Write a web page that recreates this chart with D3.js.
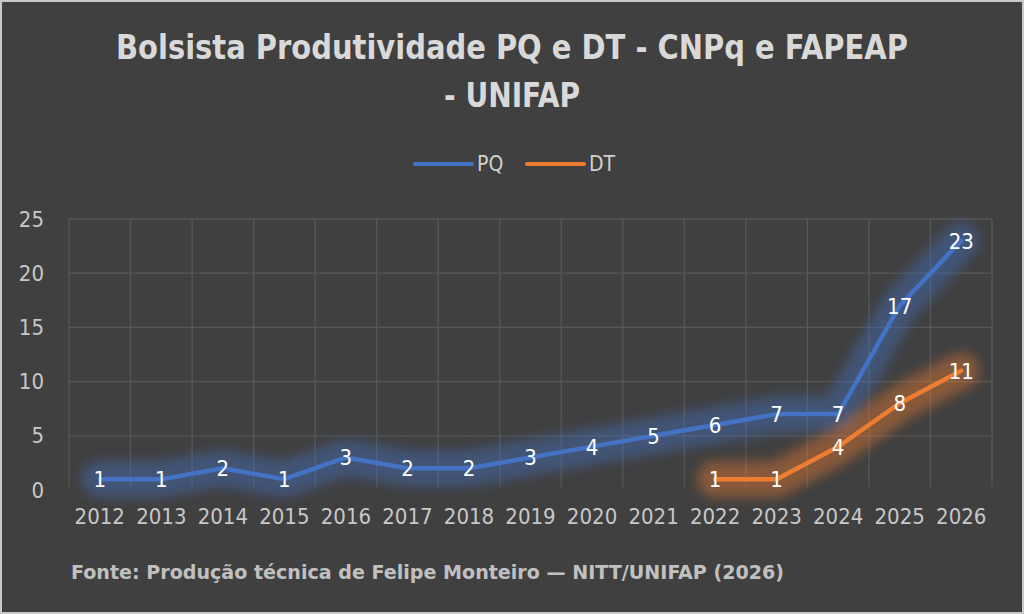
<!DOCTYPE html>
<html><head><meta charset="utf-8">
<script src="https://cdn.jsdelivr.net/npm/d3@7"></script>
<style>html,body{margin:0;padding:0;background:#404040;}svg{display:block;}</style>
</head><body>
<svg id="c" width="1024" height="614"></svg>
<script>
const years = ["2012","2013","2014","2015","2016","2017","2018","2019","2020","2021","2022","2023","2024","2025","2026"];
const pqValues = [1,1,2,1,3,2,2,3,4,5,6,7,7,17,23];
const dtYears = ["2022","2023","2024","2025","2026"];
const dtValues = [1,1,4,8,11];
const yTicks = [0,5,10,15,20,25];
const seriesNames = ["PQ","DT"];
const seriesColors = ["#4472C4","#ED7D31"];
const titleLines = ["Bolsista Produtividade PQ e DT - CNPq e FAPEAP","- UNIFAP"];
const sourceText = "Fonte: Produção técnica de Felipe Monteiro — NITT/UNIFAP (2026)";

const FONT = "'Liberation Sans Narrow','DejaVu Sans Condensed','Open Sans',sans-serif";
const svg = d3.select("#c");
const W = 1024, H = 614;
svg.append("rect").attr("x",1).attr("y",1).attr("width",W-2).attr("height",H-2)
  .attr("fill","#404040").attr("stroke","#c8c8c8").attr("stroke-width",2);

const defs = svg.append("defs");
const glow = defs.append("filter").attr("id","glow").attr("filterUnits","userSpaceOnUse")
  .attr("x",0).attr("y",0).attr("width",W).attr("height",H);
glow.append("feGaussianBlur").attr("stdDeviation",6);

const pLeft = 69, pRight = 992, pTop = 219, pBottom = 490;
const x = d3.scaleBand().domain(years).range([pLeft,pRight]);
const y = d3.scaleLinear().domain([0,25]).range([pBottom,pTop]);
const cx = d => x(d) + x.bandwidth()/2;

function fitText(sel, w){
  const n = sel.node();
  const len = n.getComputedTextLength();
  if (len>0) sel.attr("textLength", w).attr("lengthAdjust","spacingAndGlyphs");
}

// Title
const t1 = svg.append("text").attr("x",512).attr("y",59).attr("text-anchor","middle")
  .attr("font-family",FONT).attr("font-weight","bold").attr("font-size",34).attr("fill","#d9d9d9").text(titleLines[0]);
fitText(t1, 792);
const t2 = svg.append("text").attr("x",512).attr("y",107).attr("text-anchor","middle")
  .attr("font-family",FONT).attr("font-weight","bold").attr("font-size",34).attr("fill","#d9d9d9").text(titleLines[1]);
fitText(t2, 136);

// Legend
const legX = [415, 527];
seriesNames.forEach((s,i)=>{
  svg.append("line").attr("x1",legX[i]).attr("x2",legX[i]+57).attr("y1",164).attr("y2",164)
    .attr("stroke",seriesColors[i]).attr("stroke-width",4).attr("stroke-linecap","round");
  svg.append("text").attr("x",legX[i]+62).attr("y",171).attr("font-family",FONT)
    .attr("font-size",21).attr("fill","#d0d0d0").text(s);
});

// Grid
const g = svg.append("g");
g.selectAll(".hg").data(yTicks.filter(v=>v>0)).enter().append("line")
  .attr("x1",pLeft).attr("x2",pRight).attr("y1",d=>y(d)).attr("y2",d=>y(d))
  .attr("stroke","#575757").attr("stroke-width",1.3);
const vBounds = years.map(d=>x(d)).concat([pRight]);
g.selectAll(".vg").data(vBounds).enter().append("line")
  .attr("x1",d=>d).attr("x2",d=>d).attr("y1",pTop).attr("y2",pBottom-3)
  .attr("stroke","#575757").attr("stroke-width",1.3);

// Y axis labels
const yAxis = d3.axisLeft(y).tickValues(yTicks).tickSize(0).tickPadding(0);
const ya = svg.append("g").attr("transform",`translate(44,0)`).call(yAxis);
ya.select(".domain").remove();
ya.selectAll("text").attr("font-family",FONT).attr("font-size",22).attr("fill","#c8c8c8");

// X axis labels
const xAxis = d3.axisBottom(x).tickSize(0).tickPadding(0);
const xa = svg.append("g").attr("transform",`translate(0,508)`).call(xAxis);
xa.select(".domain").remove();
xa.selectAll("text").attr("font-family",FONT).attr("font-size",22).attr("fill","#c8c8c8");

// Lines
const pq = years.map((d,i)=>({x:d,v:pqValues[i]}));
const dt = dtYears.map((d,i)=>({x:d,v:dtValues[i]}));
const line = d3.line().x(d=>cx(d.x)).y(d=>y(d.v));
[pq,dt].forEach((data,i)=>{
  const gg = svg.append("g").attr("filter","url(#glow)").attr("opacity",0.42);
  gg.append("path").datum(data).attr("d",line).attr("fill","none")
    .attr("stroke",seriesColors[i]).attr("stroke-width",36)
    .attr("stroke-linejoin","round").attr("stroke-linecap","round");
});
[pq,dt].forEach((data,i)=>{
  svg.append("path").datum(data).attr("d",line).attr("fill","none")
    .attr("stroke",seriesColors[i]).attr("stroke-width",4.5)
    .attr("stroke-linejoin","round").attr("stroke-linecap","round");
});
// Data labels
[pq,dt].forEach((data)=>{
  svg.append("g").selectAll("text").data(data).enter().append("text")
    .attr("x",d=>cx(d.x)).attr("y",d=>y(d.v)+8).attr("text-anchor","middle")
    .attr("font-family",FONT).attr("font-size",22).attr("fill","#ffffff").text(d=>d.v);
});

// Source
const src = svg.append("text").attr("x",71).attr("y",579).attr("font-family",FONT)
  .attr("font-weight","bold").attr("font-size",20).attr("fill","#c0c0c0").text(sourceText);
fitText(src, 713);
</script>
</body></html>
